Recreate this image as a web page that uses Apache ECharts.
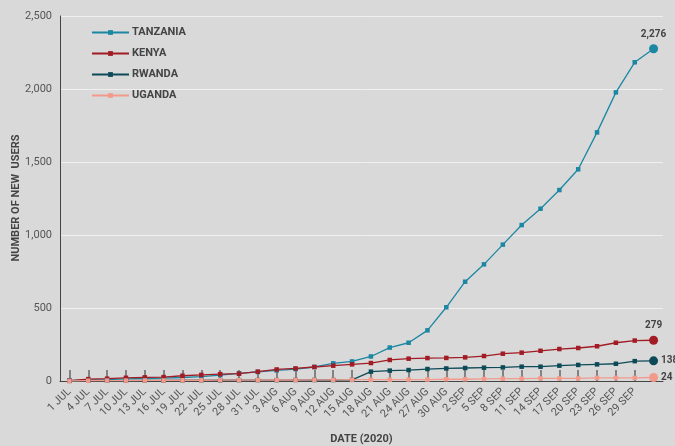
<!DOCTYPE html>
<html>
<head>
<meta charset="utf-8">
<script src="https://cdn.jsdelivr.net/npm/echarts@6/dist/echarts.min.js"></script>
<style>html,body{margin:0;padding:0;background:#d9d9d9;}#c{width:675px;height:446px;}</style>
</head>
<body>
<div id="c"></div>
<script>
const categories = ['1 JUL','4 JUL','7 JUL','10 JUL','13 JUL','16 JUL','19 JUL','22 JUL','25 JUL','28 JUL','31 JUL',
  '3 AUG','6 AUG','9 AUG','12 AUG','15 AUG','18 AUG','21 AUG','24 AUG','27 AUG','30 AUG',
  '2 SEP','5 SEP','8 SEP','11 SEP','14 SEP','17 SEP','20 SEP','23 SEP','26 SEP','29 SEP',''];
const tanzania = [2,8,10,14,17,20,24,30,40,52,62,73,82,96,121,134,168,229,262,347,505,680,799,934,1068,1180,1308,1450,1703,1977,2183,2276];
const kenya    = [2,13,16,22,25,27,36,42,47,50,64,79,86,96,105,114,123,144,153,157,158,162,171,187,194,207,219,226,238,262,277,279];
const rwanda   = [1,2,3,3,4,4,5,5,5,6,6,6,7,7,7,8,64,71,75,82,86,89,91,93,98,98,105,110,114,118,136,138];
const uganda   = [0,2,3,3,4,4,5,5,6,6,6,7,7,8,8,9,9,9,10,10,12,12,14,16,16,18,18,18,21,21,21,24];
const yTicks = [0,500,1000,1500,2000,2500];
const yName = 'NUMBER OF NEW  USERS';

const FONT = 'Roboto';
function fmt(v){ return String(v).replace(/\B(?=(\d{3})+(?!\d))/g, ','); }

function mkSeries(name, data, color, labelPos){
  const d = data.map((v,i)=>{
    if (i === data.length-1) {
      return {value:v, symbol:'circle', symbolSize:9,
        label:{show:true, position:labelPos, formatter:()=>fmt(v), color:'#444', fontFamily:FONT, fontWeight:'bold', fontSize:10, distance:labelPos==='right'?3:5}};
    }
    return v;
  });
  return {name, type:'line', data:d, symbol:'rect', symbolSize:4.5, showAllSymbol:true,
    itemStyle:{color}, lineStyle:{color, width:1.3}, emphasis:{disabled:true}, animation:false};
}

const chart = echarts.init(document.getElementById('c'));
chart.setOption({
  backgroundColor:'#d9d9d9',
  animation:false,
  textStyle:{fontFamily:FONT},
  grid:{left:60, right:12, top:16, bottom:65, containLabel:false, outerBoundsMode:'none'},
  legend:{
    orient:'vertical', left:91, top:27, padding:0, itemWidth:37, itemHeight:6, itemGap:10,
    textStyle:{fontFamily:FONT, fontWeight:'bold', fontSize:11, color:'#444', padding:[0,0,0,-2]},
    data:['TANZANIA','KENYA','RWANDA','UGANDA']
  },
  graphic:[{
    type:'text', x:16, y:198, rotation:Math.PI/2,
    style:{text:yName, fontFamily:FONT, fontWeight:'bold', fontSize:11, fill:'#444', align:'center', verticalAlign:'middle'}
  }],
  xAxis:{
    type:'category', data:categories, boundaryGap:true,
    name:'DATE (2020)', nameLocation:'middle', nameGap:53,
    nameTextStyle:{fontFamily:FONT, fontWeight:'bold', fontSize:11, color:'#444'},
    axisLine:{lineStyle:{color:'#444', width:1}},
    axisTick:{show:true, alignWithLabel:true, inside:true, length:11, interval:(i)=>i<31, lineStyle:{color:'#666', width:1.5}},
    axisLabel:{interval:0, rotate:45, fontSize:11, color:'#555', fontFamily:FONT, margin:9}
  },
  yAxis:{
    type:'value', min:yTicks[0], max:yTicks[yTicks.length-1], interval:500,
    axisLine:{show:true, lineStyle:{color:'#444', width:1}},
    axisTick:{show:false},
    axisLabel:{fontSize:11, color:'#555', fontFamily:FONT, margin:8, formatter:(v)=>fmt(v)},
    splitLine:{lineStyle:{color:'#f0f0f0', width:1}}
  },
  series:[
    mkSeries('TANZANIA', tanzania, '#1b87a3', 'top'),
    mkSeries('KENYA', kenya, '#a11c24', 'top'),
    mkSeries('RWANDA', rwanda, '#0d4a58', 'right'),
    mkSeries('UGANDA', uganda, '#f29b8c', 'right')
  ]
});
</script>
</body>
</html>
